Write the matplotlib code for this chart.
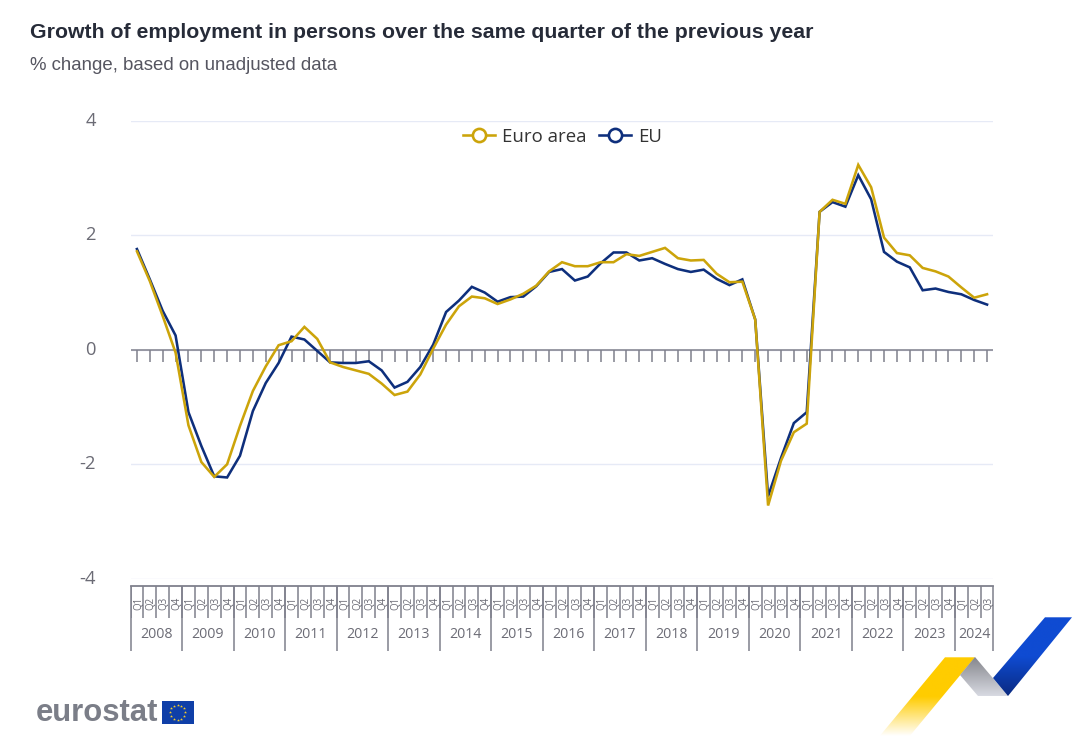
import numpy as np
import matplotlib
matplotlib.use('Agg')
import matplotlib.pyplot as plt
from matplotlib.lines import Line2D
from matplotlib.patches import Polygon, Rectangle
from matplotlib.colors import LinearSegmentedColormap

# Data (2008 Q1 to 2024 Q3)
years = [2008, 2009, 2010, 2011, 2012, 2013, 2014, 2015, 2016,
         2017, 2018, 2019, 2020, 2021, 2022, 2023, 2024]
quarters = [f'Q{q}' for y in years for q in (1, 2, 3, 4)][:67]

euro_area = [1.72, 1.20, 0.59, -0.05, -1.32, -1.96, -2.22, -2.00, -1.33, -0.72, -0.29, 0.08,
             0.15, 0.40, 0.19, -0.22, -0.30, -0.36, -0.42, -0.59, -0.79, -0.73, -0.43, 0.02,
             0.44, 0.76, 0.93, 0.90, 0.80, 0.88, 0.98, 1.12, 1.37, 1.53, 1.46, 1.46,
             1.53, 1.53, 1.67, 1.64, 1.71, 1.78, 1.60, 1.56, 1.57, 1.33, 1.18, 1.19,
             0.53, -2.72, -1.94, -1.44, -1.29, 2.41, 2.62, 2.55, 3.23, 2.84,
             1.96, 1.69, 1.65, 1.43, 1.37, 1.28, 1.09, 0.91, 0.97]
eu = [1.76, 1.23, 0.68, 0.25, -1.09, -1.68, -2.21, -2.23, -1.85, -1.07, -0.58, -0.23,
      0.23, 0.18, -0.02, -0.22, -0.23, -0.23, -0.20, -0.36, -0.66, -0.56, -0.30, 0.09,
      0.66, 0.86, 1.10, 1.00, 0.84, 0.92, 0.93, 1.11, 1.36, 1.41, 1.21, 1.28,
      1.51, 1.70, 1.70, 1.56, 1.60, 1.50, 1.41, 1.36, 1.40, 1.24, 1.13, 1.23,
      0.53, -2.56, -1.89, -1.28, -1.09, 2.41, 2.58, 2.50, 3.05, 2.63,
      1.71, 1.54, 1.44, 1.04, 1.07, 1.01, 0.97, 0.87, 0.79]
y_ticks = [-4, -2, 0, 2, 4]

GOLD = '#CCA40A'
NAVY = '#0E2F7C'
GRID = '#E6EAF6'
AXIS = '#7F808C'
TXT = '#6B6B75'
W, H = 1072, 739

plt.rcParams['font.family'] = ['Open Sans', 'DejaVu Sans']
fig = plt.figure(figsize=(W / 100, H / 100), dpi=100, facecolor='white')


def px_axes(left, top, right, bottom):
    return fig.add_axes([left / W, 1 - bottom / H, (right - left) / W, (bottom - top) / H])


# main plot
ax = px_axes(130.5, 120.8, 993.5, 578.8)
x = np.arange(len(euro_area))
ax.set_xlim(-0.5, len(euro_area) - 0.5)
ax.set_ylim(-4, 4)
ax.set_yticks(y_ticks)
ax.set_xticks([])
ax.set_yticklabels([str(v) for v in y_ticks], fontsize=13.2, color=TXT, va='center')
ax.tick_params(axis='y', length=0, pad=25)
ax.grid(axis='y', color=GRID, linewidth=1)
ax.set_axisbelow(True)
for s in ax.spines.values():
    s.set_visible(False)
ax.axhline(0, color=AXIS, linewidth=1.1, zorder=1.5)
ax.vlines(x, -0.21, 0, color=AXIS, linewidth=1.1, zorder=1.5)
ax.plot(x, eu, color=NAVY, linewidth=1.85, zorder=3, solid_joinstyle='miter')
ax.plot(x, euro_area, color=GOLD, linewidth=1.85, zorder=4, solid_joinstyle='miter')

handles = [Line2D([], [], color=GOLD, lw=1.85, marker='o', ms=9.5, mfc='white', mew=1.9),
           Line2D([], [], color=NAVY, lw=1.85, marker='o', ms=9.5, mfc='white', mew=1.9)]
leg = ax.legend(handles, ['Euro area', 'EU'], ncol=2, frameon=False, loc='upper center',
                bbox_to_anchor=(0.5006, 1.013), fontsize=13.4, handlelength=1.72,
                handletextpad=0.38, columnspacing=0.7, borderpad=0.2)
for t in leg.get_texts():
    t.set_color('#333333')

# two level category axis below the plot
axb = px_axes(130.5, 586, 993.5, 651)
axb.set_xlim(-0.5, len(euro_area) - 0.5)
axb.set_ylim(65, 0)
axb.axis('off')
axb.axhline(0, color=AXIS, linewidth=1.3, clip_on=False)
axb.vlines(x - 0.5, 0, 32, color=AXIS, linewidth=1.1)
for i, q in enumerate(quarters):
    axb.text(i + 0.12, 17, q, rotation=90, fontsize=7.0, color=TXT, ha='center', va='center')
edges = list(range(0, len(euro_area), 4)) + [len(euro_area)]
axb.vlines(np.array(edges) - 0.5, 0, 65, color=AXIS, linewidth=1.1, clip_on=False)
for a, b, yr in zip(edges[:-1], edges[1:], years):
    axb.text((a + b - 1) / 2, 48, str(yr), fontsize=10.2, color=TXT, ha='center', va='center')

# overlay in pixel coordinates: titles and branding
ov = fig.add_axes([0, 0, 1, 1], zorder=-1)
ov.set_xlim(0, W)
ov.set_ylim(H, 0)
ov.axis('off')
ov.text(30, 32.5, 'Growth of employment in persons over the same quarter of the previous year',
        family='Liberation Sans', fontweight='bold', fontsize=15.3, color='#262B38', va='center')
ov.text(30, 65.5, '% change, based on unadjusted data',
        family='Liberation Sans', fontsize=13.4, color='#555560', va='center')


def ribbon(points, colors, extent):
    # gradient filled polygon
    cmap = LinearSegmentedColormap.from_list('r', colors)
    grad = np.linspace(0, 1, 256).reshape(-1, 1)
    im = ov.imshow(grad, cmap=cmap, extent=extent, aspect='auto', origin='upper', zorder=2)
    poly = Polygon(points, closed=True, transform=ov.transData, fc='none', ec='none')
    ov.add_patch(poly)
    im.set_clip_path(poly)


ribbon([(945, 657.3), (975, 657.3), (910, 735.7), (880, 735.7)],
       ['#FFCC00', '#FFCC00', '#FFFFFF'], (875, 980, 736, 657))
ribbon([(975, 657), (1008, 696), (978, 696), (960, 675)],
       ['#85868C', '#D8DAE2'], (955, 1010, 696, 657))
ribbon([(1045, 617.3), (1072, 617.3), (1008, 696), (993, 678)],
       ['#0F4BD2', '#0F4BD2', '#0A2A80'], (990, 1072, 696, 617))
ov.set_xlim(0, W)
ov.set_ylim(H, 0)

ov.text(36, 713, 'eurostat', family='Liberation Sans', fontweight='bold', fontsize=22.3,
        color='#7B7E88', va='center')
ov.add_patch(Rectangle((162, 701), 31.5, 22.5, fc='#0F3FA8', ec='none'))
ang = np.arange(12) * np.pi / 6
ov.scatter(177.7 + 7.5 * np.cos(ang), 712.2 + 7.5 * np.sin(ang), marker='*', s=5, c='#F5CE2A', linewidths=0)

fig.savefig('out.png', dpi=100)
